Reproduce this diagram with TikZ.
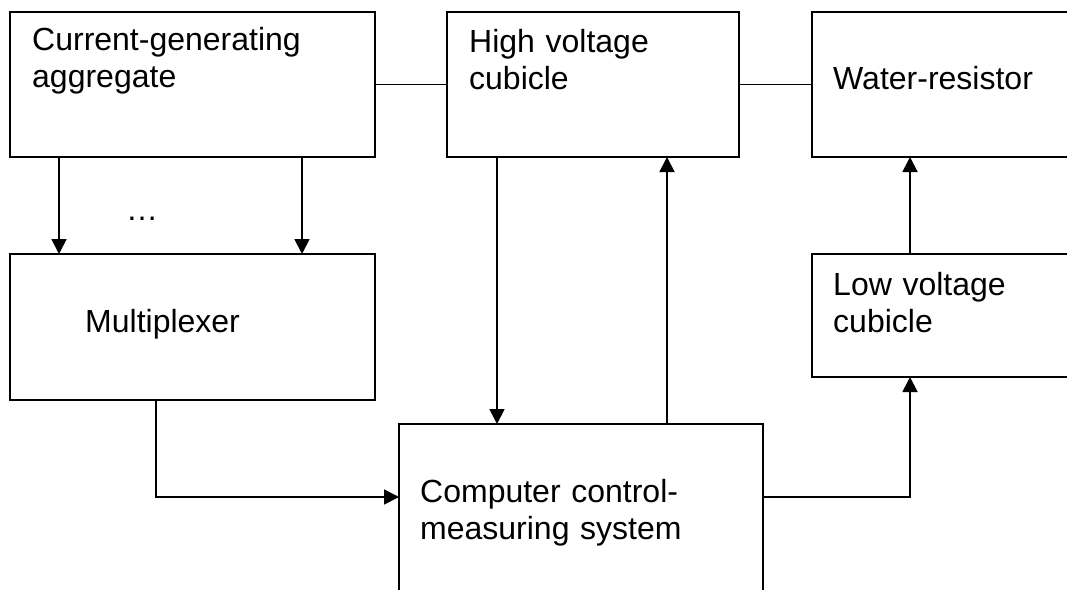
\documentclass[tikz,border=0pt]{standalone}
\usepackage{fontspec}
\setmainfont{Liberation Sans}
\usetikzlibrary{arrows.meta}

\tikzset{
  blk/.style={draw, line width=1.8pt, rectangle, anchor=north west,
              inner sep=0pt, outer sep=0pt},
  lbl/.style={anchor=base west, inner sep=0pt, align=left, text width=330pt,
              font=\fontsize{32}{37}\selectfont},
  wire/.style={line width=1.8pt},
  arr/.style={wire, -{Triangle[length=15pt,width=15pt]}}
}

\begin{document}
\begin{tikzpicture}[x=1pt, y=-1pt]
  \useasboundingbox (0,0) rectangle (1067,589);
  \clip (0,0) rectangle (1067,589);

  % blocks
  \node[blk, minimum width=365pt, minimum height=145pt] (gen) at (10,12) {};
  \node[blk, minimum width=292pt, minimum height=145pt] (hv)  at (447,12) {};
  \node[blk, minimum width=280pt, minimum height=145pt] (wr)  at (812,12) {};
  \node[blk, minimum width=365pt, minimum height=146pt] (mux) at (10,254) {};
  \node[blk, minimum width=280pt, minimum height=123pt] (lv)  at (812,254) {};
  \node[blk, minimum width=364pt, minimum height=190pt] (pc)  at (399,424) {};

  % block captions
  \node[lbl] (genT) at (32,50)   {Current-generating\\aggregate};
  \node[lbl] (hvT)  at (469,52)  {High voltage\\cubicle};
  \node[lbl] (wrT)  at (833,89)  {Water-resistor};
  \node[lbl] (muxT) at (85,332)  {Multiplexer};
  \node[lbl] (lvT)  at (833,295) {Low voltage\\cubicle};
  \node[lbl] (pcT)  at (420,502) {Computer control-\\measuring system};
  \node[anchor=base, inner sep=0pt, font=\fontsize{32}{37}\selectfont]
       (dots) at (142,220) {…};

  % power line
  \draw[wire] (gen.east) -- (hv.west);
  \draw[wire] (hv.east) -- (wr.west);

  % generator channels into the multiplexer
  \draw[arr] ([xshift=49pt]gen.south west) -- ([xshift=49pt]mux.north west);
  \draw[arr] ([xshift=292pt]gen.south west) -- ([xshift=292pt]mux.north west);

  % multiplexer to computer system
  \draw[arr] ([xshift=146pt]mux.south west) |- ([yshift=-73pt]pc.north west);

  % high voltage cubicle <-> computer system
  \draw[arr] ([xshift=50pt]hv.south west) -- ([xshift=50pt]hv.south west |- pc.north);
  \draw[arr] ([xshift=268pt]pc.north west) -- ([xshift=268pt]pc.north west |- hv.south);

  % computer system to low voltage cubicle
  \draw[arr] ([yshift=-73pt]pc.north east) -| ([xshift=98pt]lv.south west);

  % low voltage cubicle to water-resistor
  \draw[arr] ([xshift=98pt]lv.north west) -- ([xshift=98pt]wr.south west);
\end{tikzpicture}
\end{document}
